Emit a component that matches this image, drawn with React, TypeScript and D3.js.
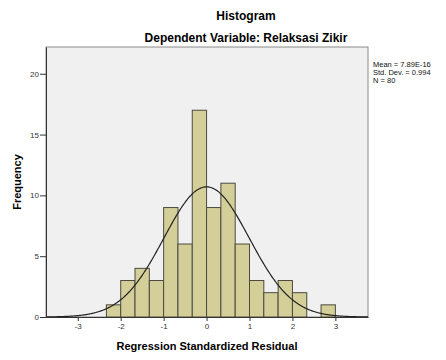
import React, { useEffect, useRef } from "react";
import * as d3 from "d3";

// bin edges (standardized residual) and counts
const binStarts = [-7 / 3, -2, -5 / 3, -4 / 3, -1, -2 / 3, -1 / 3, 0, 1 / 3, 2 / 3, 1, 4 / 3, 5 / 3, 2, 7 / 3, 8 / 3];
const binCounts = [1, 3, 4, 3, 9, 6, 17, 9, 11, 6, 3, 2, 3, 2, 0, 1];
const binWidth = 1 / 3;

const xTicks = [-3, -2, -1, 0, 1, 2, 3];
const yTicks = [0, 5, 10, 15, 20];

const statMean = 7.89e-16;
const statSd = 0.994;
const statN = 80;
const legendLines = ["Mean = 7.89E-16", "Std. Dev. = 0.994", "N = 80"];

const App: React.FC = () => {
    const ref = useRef<SVGSVGElement>(null);

    useEffect(() => {
        const svg = d3.select(ref.current);
        svg.selectAll("*").remove();

        const W = 446;
        const H = 360;
        const margin = { top: 47, right: 78, bottom: 43, left: 46 };
        const width = W - margin.left - margin.right;
        const height = H - margin.top - margin.bottom;
        const font = "Arial, 'Liberation Sans', sans-serif";

        svg.attr("width", W).attr("height", H);
        svg.append("rect").attr("width", W).attr("height", H).attr("fill", "#fff");

        const x = d3.scaleLinear().domain([-3.74, 3.76]).range([0, width]);
        const y = d3.scaleLinear().domain([0, 22.2]).range([height, 0]);

        const g = svg
            .append("g")
            .attr("transform", "translate(" + margin.left + "," + margin.top + ")");

        // plot background
        g.append("rect")
            .attr("width", width)
            .attr("height", height)
            .attr("fill", "#f0f0f0")
            .attr("stroke", "#8a8a8a")
            .attr("stroke-width", 1);

        // bars
        g.selectAll(".bar")
            .data(binStarts.map((s, i) => ({ s, c: binCounts[i] })).filter((d) => d.c > 0))
            .enter()
            .append("rect")
            .attr("class", "bar")
            .attr("x", (d) => x(d.s))
            .attr("y", (d) => y(d.c))
            .attr("width", (d) => x(d.s + binWidth) - x(d.s))
            .attr("height", (d) => y(0) - y(d.c))
            .attr("fill", "#d4cf98")
            .attr("stroke", "#4a4a40")
            .attr("stroke-width", 1);

        // normal curve from the reported mean / sd
        const scale = statN * binWidth;
        const pdf = (v: number) =>
            (scale / (statSd * Math.sqrt(2 * Math.PI))) *
            Math.exp(-0.5 * ((v - statMean) / statSd) ** 2);
        const pts = d3.range(-3.74, 3.761, 0.02);
        const line = d3
            .line<number>()
            .x((d) => x(d))
            .y((d) => y(pdf(d)))
            .curve(d3.curveBasis);
        g.append("path")
            .datum(pts)
            .attr("d", line)
            .attr("fill", "none")
            .attr("stroke", "#222")
            .attr("stroke-width", 1.2);

        // axes
        const xAxis = g
            .append("g")
            .attr("transform", "translate(0," + height + ")")
            .call(d3.axisBottom(x).tickValues(xTicks).tickSize(4).tickSizeOuter(0).tickFormat((d) => String(d)));
        const yAxis = g
            .append("g")
            .call(d3.axisLeft(y).tickValues(yTicks).tickSize(6).tickSizeOuter(0).tickFormat((d) => String(d)));
        [xAxis, yAxis].forEach((a) => {
            a.select(".domain").attr("stroke", "#333");
            a.selectAll("line").attr("stroke", "#333");
            a.selectAll("text")
                .attr("font-family", font)
                .attr("font-size", 8)
                .attr("fill", "#333");
        });
        yAxis.selectAll("text").attr("x", -7);
        xAxis.selectAll("text").attr("y", 6);

        // titles
        svg.append("text")
            .attr("x", 246)
            .attr("y", 20)
            .attr("text-anchor", "middle")
            .attr("font-family", font)
            .attr("font-weight", "bold")
            .attr("font-size", 12)
            .text("Histogram");
        svg.append("text")
            .attr("x", 246)
            .attr("y", 42)
            .attr("text-anchor", "middle")
            .attr("font-family", font)
            .attr("font-weight", "bold")
            .attr("font-size", 12)
            .text("Dependent Variable: Relaksasi Zikir");
        svg.append("text")
            .attr("transform", "translate(21,182) rotate(-90)")
            .attr("text-anchor", "middle")
            .attr("font-family", font)
            .attr("font-weight", "bold")
            .attr("font-size", 11)
            .text("Frequency");
        svg.append("text")
            .attr("x", 207)
            .attr("y", 350)
            .attr("text-anchor", "middle")
            .attr("font-family", font)
            .attr("font-weight", "bold")
            .attr("font-size", 11)
            .text("Regression Standardized Residual");

        // stats legend
        svg.selectAll(".leg")
            .data(legendLines)
            .enter()
            .append("text")
            .attr("class", "leg")
            .attr("x", 373)
            .attr("y", (d, i) => 67 + i * 8)
            .attr("font-family", font)
            .attr("font-size", 7.5)
            .attr("fill", "#111")
            .text((d) => d);
    }, []);

    return <svg ref={ref} style={{ position: "absolute", left: 0, top: 0 }}></svg>;
};

export default App;
